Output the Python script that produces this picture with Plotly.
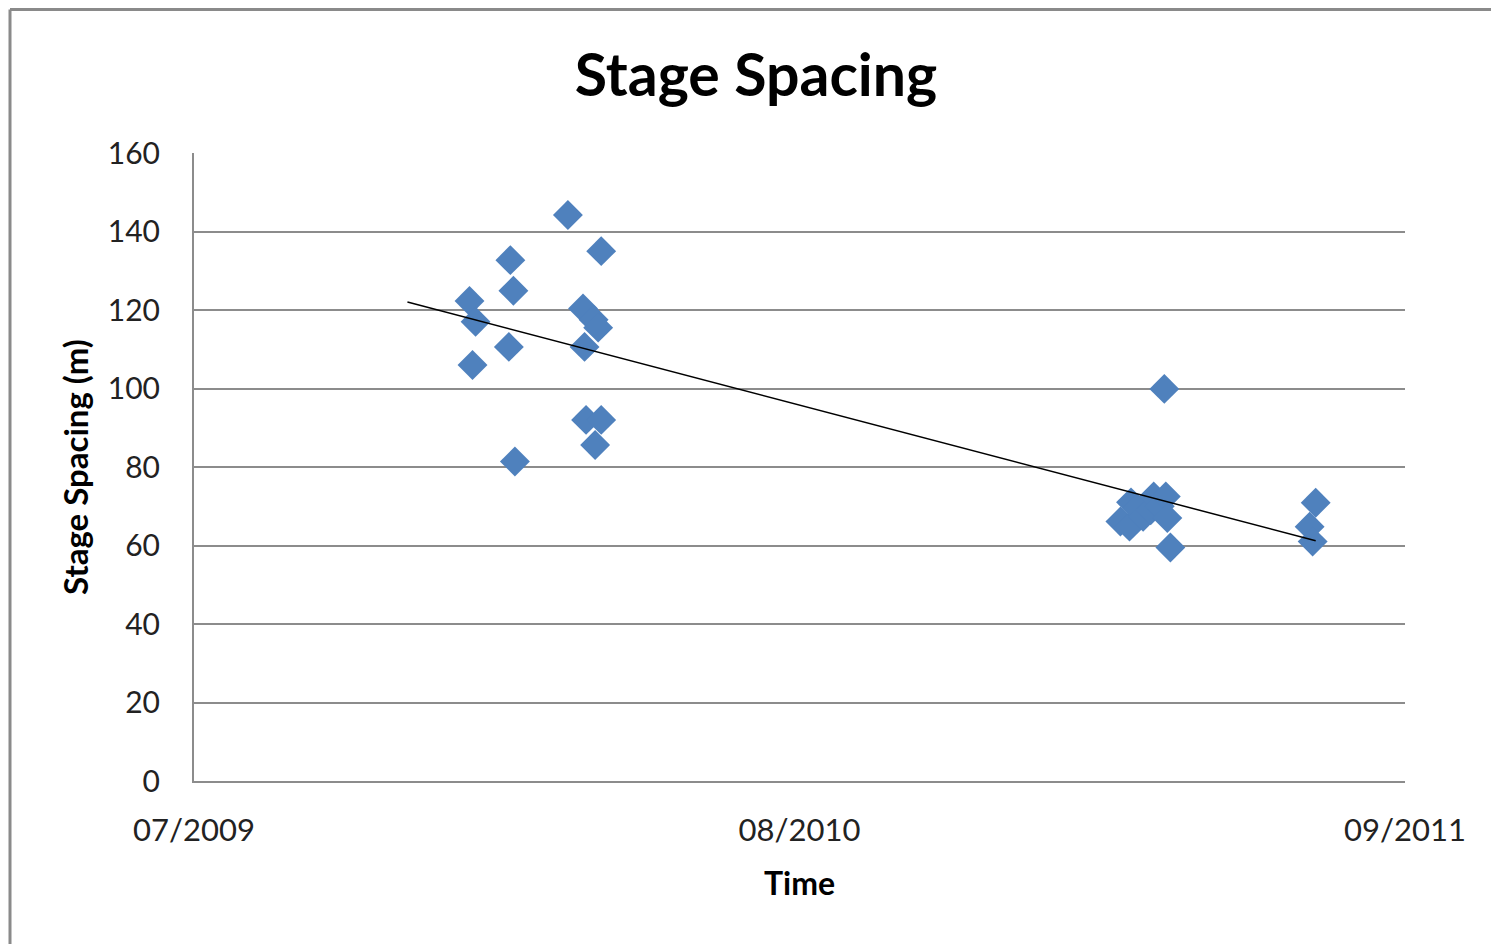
import numpy as np
import pandas as pd
import plotly.graph_objects as go

# ---- data ----
dates = [
    "2010-01-04", "2010-01-06", "2010-01-08", "2010-01-30", "2010-01-31",
    "2010-02-02", "2010-02-03", "2010-03-10", "2010-03-20", "2010-03-21",
    "2010-03-22", "2010-03-27", "2010-03-28", "2010-03-30", "2010-04-01",
    "2010-04-01",
    "2011-03-10", "2011-03-16", "2011-03-17", "2011-03-21", "2011-03-25",
    "2011-03-30", "2011-04-01", "2011-04-05", "2011-04-08", "2011-04-09",
    "2011-04-10", "2011-04-12",
    "2011-07-13", "2011-07-15", "2011-07-17",
]
spacing = [
    122.3, 106.0, 117.0, 110.6, 132.7,
    124.9, 81.4, 144.2, 120.4, 110.6,
    92.0, 117.5, 85.6, 115.5, 135.0,
    92.0,
    66.1, 64.8, 71.0, 69.5, 67.3,
    69.0, 72.5, 70.0, 99.9, 72.5,
    67.0, 59.5,
    64.8, 61.0, 70.9,
]

x_range = ["2009-07-06", "2011-09-14"]
x_ticks = ["2009-07-06", "2010-08-10", "2011-09-14"]
y_ticks = [0, 20, 40, 60, 80, 100, 120, 140, 160]
trend_backward_days = 41  # trendline "backward forecast"

# ---- linear trendline ----
dt = pd.to_datetime(pd.Series(dates))
t0 = pd.Timestamp("2009-07-06")
days = (dt - t0).dt.days.to_numpy(dtype=float)
slope, intercept = np.polyfit(days, np.array(spacing), 1)
tx = np.array([days.min() - trend_backward_days, days.max()])
ty = slope * tx + intercept
trend_dates = [t0 + pd.Timedelta(days=float(d)) for d in tx]

FONT = "Lato"
GRID = "#8c8c8c"

# page has an 8px body margin; figure-pixel layout below accounts for it
L, R, T, B = 186, 102, 145, 171
PW, PH = 1499 - L - R, 944 - T - B

fig = go.Figure()
fig.add_trace(go.Scatter(
    x=dt, y=spacing, mode="markers",
    marker=dict(symbol="diamond", size=23, color="#4F81BD",
                line=dict(width=0)),
    showlegend=False,
))
fig.add_trace(go.Scatter(
    x=trend_dates, y=ty, mode="lines",
    line=dict(color="black", width=1.5),
    showlegend=False,
))

fig.update_layout(
    width=1499, height=944,
    margin=dict(l=L, r=R, t=T, b=B),
    paper_bgcolor="white", plot_bgcolor="white",
    font=dict(family=FONT, color="black"),
    title=dict(text="<b>Stage Spacing</b>", x=(756 - 8) / 1499,
               xanchor="center",
               y=1 - 67 / 944, yanchor="middle", yref="container",
               font=dict(size=59, family=FONT, color="black")),
    xaxis=dict(
        type="date", range=x_range, tickvals=x_ticks, tickformat="%m/%Y",
        showgrid=False, showline=True, linecolor=GRID, linewidth=2,
        ticks="", tickfont=dict(size=31, family=FONT, color="#222"),
        ticklabelstandoff=21,
        title=dict(text="<b>Time</b>", font=dict(size=32, family=FONT),
                   standoff=25),
        zeroline=False,
    ),
    yaxis=dict(
        range=[0, 160], tickvals=y_ticks,
        showgrid=True, gridcolor=GRID, gridwidth=1.5,
        showline=True, linecolor=GRID, linewidth=2,
        ticks="", tickfont=dict(size=30, family=FONT, color="#222"),
        ticklabelstandoff=26,
        title=dict(text="<b>Stage Spacing (m)</b>",
                   font=dict(size=33, family=FONT), standoff=9),
        zeroline=False,
    ),
)

# chart-area border (left and top edges visible in the crop)
bx = (2 - L) / PW
by_top = (PH + T - 1.5) / PH
fig.add_shape(type="line", xref="paper", yref="paper",
              x0=bx, x1=bx, y0=by_top, y1=-(B + 20) / PH,
              line=dict(color="#8a8a8a", width=3))
fig.add_shape(type="line", xref="paper", yref="paper",
              x0=bx, x1=(1520 - L) / PW, y0=by_top, y1=by_top,
              line=dict(color="#8a8a8a", width=3))

fig.write_html("out.html")
